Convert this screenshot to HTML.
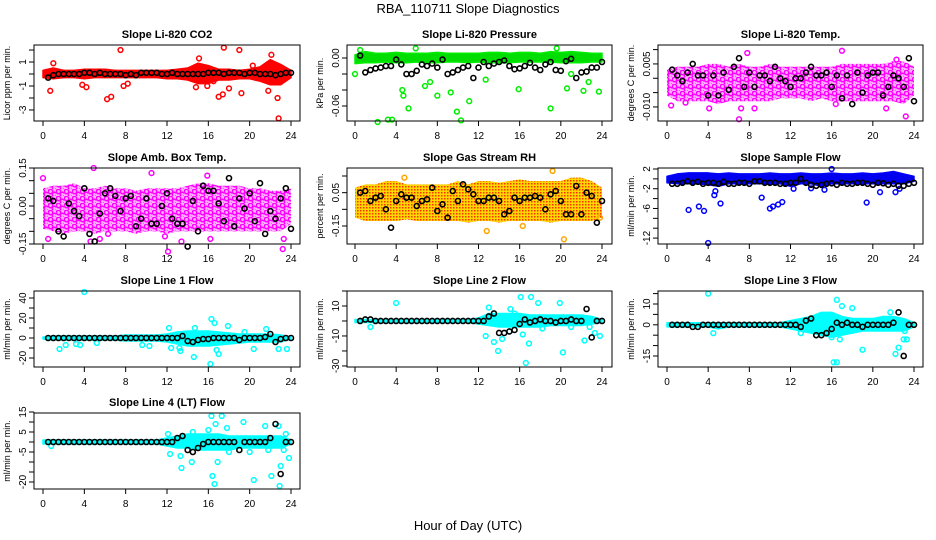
<!DOCTYPE html>
<html><head><meta charset="utf-8"><style>
html,body{margin:0;padding:0;background:#fff}
svg{display:block;font-family:"Liberation Sans",Arial,sans-serif}
</style></head><body>
<svg id="chart" width="936" height="540" viewBox="0 0 936 540">
<defs>
<pattern id="rhpat" width="3" height="3" patternUnits="userSpaceOnUse"><rect width="3" height="3" fill="#ffd700"/><rect width="1.5" height="1.5" fill="#ff3000"/></pattern>
<pattern id="magpat" width="8" height="7" patternUnits="userSpaceOnUse"><rect width="8" height="7" fill="#ffb0ff"/><circle cx="2.5" cy="2.5" r="2.2" fill="none" stroke="#ff00ff" stroke-width="1.5"/><circle cx="6.5" cy="5.5" r="2.2" fill="none" stroke="#ff00ff" stroke-width="1.5"/></pattern>
</defs>
<text x="468" y="13" text-anchor="middle" font-size="13">RBA_110711  Slope Diagnostics</text>
<text x="468" y="530" text-anchor="middle" font-size="13">Hour of Day (UTC)</text>
</svg>
<script>
const hours = [0.5,1,1.5,2,2.5,3,3.5,4,4.5,5,5.5,6,6.5,7,7.5,8,8.5,9,9.5,10,10.5,11,11.5,12,12.5,13,13.5,14,14.5,15,15.5,16,16.5,17,17.5,18,18.5,19,19.5,20,20.5,21,21.5,22,22.5,23,23.5,24];
const bandHours = [0,1,2,3,4,5,6,7,8,9,10,11,12,13,14,15,16,17,18,19,20,21,22,23,24];
const xTicks = [0,4,8,12,16,20,24];

const co2Lo = [-0.3,-0.4,-0.3,-0.3,-0.4,-0.3,-0.3,-0.3,-0.3,-0.3,-0.3,-0.3,-0.4,-0.4,-0.5,-0.8,-0.8,-0.5,-0.5,-0.4,-0.4,-0.6,-0.9,-0.9,-0.3];
const co2Hi = [0.3,0.5,0.3,0.3,0.4,0.4,0.4,0.3,0.3,0.3,0.3,0.3,0.3,0.4,0.5,0.9,0.7,0.4,0.4,0.3,0.4,0.6,1.2,0.8,0.3];
const co2Out = [[0.7,-1.4],[1.0,0.9],[7.5,2.0],[3.8,-0.9],[4.2,-1.1],[6.2,-2.1],[6.6,-1.9],[7.8,-1.0],[8.2,-0.8],[14.8,-1.1],[15.1,1.3],[15.9,-1.0],[17.0,-1.9],[17.4,-1.7],[17.5,2.2],[18.0,-1.2],[19.0,2.0],[19.2,-1.6],[21.8,-1.4],[22.1,1.6],[22.7,-2.0],[22.8,-3.7],[20.3,0.7],[16.5,-0.6]];
const co2Black = [-0.3,-0.1,0,0,0,0,0,0.1,0.1,0,0.1,0,0,0,0,-0.1,0,-0.1,0.1,0.1,0.1,0.1,0,0,0.1,0,0,0,0,0,0,0.1,0.1,0.1,0,0.1,0.1,0.1,0,0.1,0.1,0,0,0,-0.1,0,0.1,0.1];

const presLo = [-0.007,-0.006,-0.006,-0.005,-0.006,-0.006,-0.005,-0.006,-0.006,-0.005,-0.005,-0.006,-0.005,-0.006,-0.006,-0.006,-0.005,-0.005,-0.005,-0.005,-0.006,-0.006,-0.006,-0.005,-0.005];
const presHi = [0.004,0.008,0.006,0.006,0.007,0.006,0.006,0.006,0.007,0.006,0.006,0.006,0.006,0.007,0.007,0.006,0.007,0.007,0.006,0.008,0.007,0.008,0.007,0.006,0.006];
const presOut = [[0,-0.02],[2.2,-0.08],[3.2,-0.077],[3.6,-0.077],[4.6,-0.04],[4.7,-0.047],[5.2,-0.063],[6.8,-0.035],[7.3,-0.03],[8.0,-0.047],[9.9,-0.067],[10.3,-0.078],[9.3,-0.043],[11.1,-0.054],[12.7,-0.027],[15.9,-0.039],[19.0,-0.063],[20.6,-0.038],[22.2,-0.041],[22.7,-0.030],[23.7,-0.042],[5.9,0.012],[0.5,0.01],[19.6,0.012],[21.0,-0.02]];
const presBlack = [0.003,-0.018,-0.015,-0.013,-0.012,-0.010,-0.010,-0.002,-0.008,-0.020,-0.020,-0.016,-0.008,-0.010,-0.007,-0.012,-0.002,-0.020,-0.018,-0.015,-0.012,-0.010,-0.025,-0.012,-0.005,-0.010,-0.007,-0.005,-0.003,-0.010,-0.014,-0.013,-0.010,-0.006,-0.012,-0.015,-0.008,-0.005,-0.015,-0.016,-0.004,-0.001,-0.025,-0.018,-0.017,-0.012,-0.012,-0.005];

const tempLo = [-0.006,-0.008,-0.008,-0.008,-0.008,-0.009,-0.008,-0.008,-0.008,-0.008,-0.008,-0.007,-0.007,-0.007,-0.008,-0.007,-0.008,-0.008,-0.008,-0.008,-0.008,-0.008,-0.008,-0.009,-0.006];
const tempHi = [0.003,0.004,0.004,0.004,0.005,0.005,0.004,0.005,0.004,0.004,0.005,0.004,0.004,0.004,0.004,0.004,0.004,0.005,0.005,0.005,0.005,0.005,0.006,0.006,0.004];
const tempOut = [[4.1,-0.0105],[7.0,-0.0143],[7.2,-0.0105],[8.5,-0.0105],[7.8,0.0088],[17.0,0.0096],[21.3,-0.0105],[23.2,-0.0133],[22.3,0.0065],[0.4,-0.0095],[1.8,-0.0085],[16.4,-0.009]];
const tempBlack = [0.003,0.001,-0.001,0.002,0.005,0.001,0.001,-0.006,0.001,-0.006,0.002,-0.004,0.004,0.007,-0.003,0.002,-0.003,0.001,0.001,-0.001,0.004,0.0,-0.001,-0.003,0.0,0.0,0.002,0.004,0.001,0.001,0.002,-0.003,0.001,-0.007,0.001,-0.009,0.002,-0.005,0.001,0.002,0.002,-0.006,-0.003,0.001,0.0,-0.003,0.007,-0.008];

const ambLo = [-0.09,-0.1,-0.11,-0.1,-0.1,-0.11,-0.1,-0.1,-0.1,-0.11,-0.1,-0.1,-0.11,-0.1,-0.1,-0.1,-0.1,-0.1,-0.1,-0.1,-0.1,-0.1,-0.1,-0.1,-0.07];
const ambHi = [0.07,0.08,0.08,0.09,0.07,0.07,0.08,0.07,0.07,0.06,0.07,0.07,0.07,0.07,0.08,0.09,0.09,0.08,0.08,0.08,0.07,0.07,0.06,0.06,0.07];
const ambOut = [[0,0.11],[0.5,-0.13],[4.9,0.15],[5.5,-0.13],[6.3,-0.11],[10.5,0.13],[12.1,-0.18],[13.4,-0.14],[16.2,-0.13],[23.3,-0.13],[23.2,-0.17],[11.8,-0.12],[4.6,-0.14],[15.9,0.12]];
const ambBlack = [0.03,0.02,-0.1,-0.12,0.01,-0.02,-0.04,0.07,-0.11,-0.14,-0.03,0.05,0.07,0.04,-0.02,0.03,0.04,-0.08,-0.05,0.03,-0.07,-0.07,0.0,0.05,-0.05,-0.07,-0.07,-0.16,0.02,-0.1,0.08,0.06,0.06,0.01,-0.06,0.11,-0.08,0.03,-0.01,0.05,-0.06,0.09,-0.11,-0.02,-0.05,0.03,0.07,-0.09];

const rhLo = [-0.1,-0.12,-0.12,-0.12,-0.12,-0.11,-0.12,-0.12,-0.12,-0.12,-0.12,-0.13,-0.12,-0.12,-0.13,-0.12,-0.12,-0.12,-0.12,-0.13,-0.12,-0.12,-0.12,-0.12,-0.1];
const rhHi = [0.08,0.1,0.1,0.12,0.12,0.1,0.1,0.1,0.1,0.1,0.12,0.1,0.12,0.12,0.11,0.12,0.13,0.12,0.12,0.12,0.12,0.14,0.14,0.12,0.08];
const rhOut = [[12.8,-0.18],[16.3,-0.15],[20.3,-0.23],[19.2,0.18],[23.8,-0.1],[4.8,0.14]];
const rhBlack = [0.05,0.06,0.0,0.02,0.03,-0.05,-0.16,0.0,0.04,0.02,0.02,-0.03,0.0,0.01,0.08,-0.06,-0.02,-0.1,0.06,0.0,0.1,0.07,0.04,0.0,0.0,0.02,0.02,0.0,-0.08,-0.06,0.02,0.0,0.02,0.02,0.03,0.02,-0.05,0.04,0.06,0.0,-0.08,-0.08,0.09,-0.08,0.05,0.03,-0.13,0.0];

const sfLo = [-0.8,-1,-1,-1,-1.2,-1.5,-1,-1,-1,-1,-1,-1,-1.5,-1,-1,-1.5,-1,-1,-1,-1,-1,-1,-1,-1,-0.5];
const sfHi = [0.5,1,1.2,1.2,1.2,1,1.2,1,1,1,1.2,1,1,1.2,1,1,1.2,1,1,1.2,1,1.2,1.5,1,0.5];
const sfOut = [[2.1,-6.3],[3.1,-5.6],[3.6,-6.5],[4.0,-13],[4.6,-3.3],[4.7,-2.5],[5.2,-5],[9.2,-3.8],[10.0,-6],[10.3,-5.6],[10.8,-5.2],[11.2,-4.7],[12.3,-2],[14.0,-1.9],[15.3,-2.2],[16.0,2],[19.4,-4.8],[20.7,-2.7],[22.2,-2.7],[22.6,-2],[8.0,0.3]];
const sfBlack = [-1,-1,-0.8,-0.5,-0.8,-0.6,-1,-0.8,-0.8,-1,-0.6,-1,-1,-0.8,-0.8,-1,-0.5,-0.5,-0.8,-0.8,-0.8,-1,-1,-0.8,-0.8,0,-0.8,-1.2,-1.4,-1.2,-1,-0.9,-1.2,-0.8,-1,-1,-0.8,-0.8,-1,-1.2,-0.8,-0.9,-1.2,-1,-1.4,-1.4,-1,-0.8];

const l1Lo = [-1,-2,-2,-2,-2,-2,-2,-2,-3,-3,-3,-3,-4,-6,-8,-8,-8,-7,-6,-5,-4,-4,-4,-4,-1];
const l1Hi = [1,2,2,2,2,2,2,2,3,3,3,3,4,6,7,7,7,6,5,4,4,4,4,3,1];
const l1Out = [[4,46],[1.6,-11],[2.2,-7],[3.2,-6],[3.6,-7],[5.2,-5],[9.6,-7],[10.3,-8],[12.2,10],[12.4,-10],[13.2,-10],[13.3,-13],[14.6,-19],[14.7,10],[16.3,19],[16.6,15],[16.2,-26],[16.8,-12],[17.0,-16],[17.9,12],[19.5,6],[20.4,-11],[21.6,9],[22.8,-11],[23.6,-11]];
const l1Black = [0,0,0,0,0,0,0,0,0,0,0,0,0,0,0,0,0,0,0,0,0,0,0,0,0,0,2,-3,-4,-2,-1,-1,0,0,0,0,0,-2,0,0,0,0,1,4,-4,-1,0,0];

const l2Lo = [-1,-1,-1,-1,-1,-1,-1,-1,-1,-1,-1,-1,-2,-3,-4,-4,-4,-4,-4,-3,-3,-3,-3,-2,-1];
const l2Hi = [1,1,1,1,1,1,1,1,1,1,1,1,2,5,5,5,5,4,4,4,4,4,4,3,1];
const l2Out = [[4,12],[1.5,-4],[13.0,9],[12.7,-10],[13.5,-14],[13.9,-20],[14.3,-12],[15.0,-7],[15.5,5],[16.1,16],[16.3,-9],[16.6,-28],[16.9,-15],[17.1,16],[17.8,12],[18.2,-5],[19.9,12],[20.2,-21],[21.0,-4],[22.3,-13],[22.8,-4],[23.3,-8],[23.8,-10],[15.1,8]];
const l2Black = [0,1,1,0,0,0,0,0,0,0,0,0,0,0,0,0,0,0,0,0,0,0,0,0,0,3,5,-8,-8,-7,-6,-2,1,-1,0,1,0,0,-1,0,0,1,0,0,8,-11,0,0];

const l3Lo = [-1,-1,-1,-1,-1,-2,-1,-1,-1,-1,-1,-1,-2,-3,-4,-5,-6,-5,-4,-3,-3,-3,-3,-3,-1];
const l3Hi = [1,1,1,1,1,1,1,1,1,1,1,1,2,3,4,6,6,4,3,3,3,4,4,3,1];
const l3Out = [[4.0,15],[4.5,-4],[13.0,-4],[16.5,12],[17.0,9],[16.2,-18],[16.5,-18],[16.0,-6],[16.8,-7],[18.0,8],[19.0,-12],[21.7,6],[22.2,-14],[22.5,-11],[23.0,-7],[23.1,-3],[23.3,-7]];
const l3Black = [0,0,0,0,-1,-1,0,0,0,0,0,0,0,0,0,0,0,0,0,0,0,0,0,0,0,-1,2,3,-5,-5,-4,-2,1,0,1,0,0,-1,0,0,0,0,0,1,6,-15,0,0];

const l4Lo = [-1,-1,-1,-1,-1,-1,-1,-1,-1,-1,-1,-1,-2,-3,-3,-4,-4,-4,-4,-3,-3,-3,-3,-3,-1];
const l4Hi = [1,1,1,1,1,1,1,1,1,1,1,1,2,3,4,4,4,4,3,3,3,3,3,3,1];
const l4Out = [[0.8,-2],[12.1,4],[12.3,-6],[13.3,-7],[13.4,-13],[14.4,-10],[14.5,5],[16.0,6],[16.3,13],[16.4,-17],[16.6,-21],[16.7,9],[16.9,-10],[17.3,13],[17.8,7],[18.0,-5],[19.4,10],[20.0,-5],[20.4,-19],[21.5,8],[21.8,-4],[22.1,-17],[22.8,8],[22.9,-22],[23.3,-4],[23.5,4],[23.8,-8],[23.0,-12]];
const l4Black = [0,0,0,0,0,0,0,0,0,0,0,0,0,0,0,0,0,0,0,0,0,0,0,0,0,2,3,-4,-5,-3,-1,0,0,0,0,0,0,-4,0,0,0,0,0,2,9,-16,0,0];

const NS = "http://www.w3.org/2000/svg";
const svg = document.getElementById('chart');
function mk(tag, attrs, parent){ const e=document.createElementNS(NS,tag); for(const k in attrs) e.setAttribute(k,attrs[k]); (parent||svg).appendChild(e); return e; }

const cols = [[34,300,43,291],[347,612,355,602],[658,923,667,914]];
const rows = [[45,121],[168,244],[291,367],[413,489]];

const panels = [
 {name:'co2',title:'Slope Li-820 CO2',ylab:'Licor ppm per min.',c:0,r:0,top:2.42,bot:-3.92,ticks:[-3,-2,-1,0,1,2],labels:[-3,-1,1],lo:co2Lo,hi:co2Hi,out:co2Out,black:co2Black,color:'#ff0000',fill:'#ff0000',sw:1.5},
 {name:'pressure',title:'Slope Li-820 Pressure',ylab:'kPa per min.',c:1,r:0,top:0.01625,bot:-0.07875,ticks:[0,-0.02,-0.04,-0.06],labels:[0,-0.06],fmt:v=>v.toFixed(2),lo:presLo,hi:presHi,out:presOut,black:presBlack,color:'#00ee00',fill:'#00dd00',sw:1.5},
 {name:'temp',title:'Slope Li-820 Temp.',ylab:'degrees C per min.',c:2,r:0,top:0.0116,bot:-0.0149,ticks:[0.01,0.005,0,-0.005,-0.01],labels:[0.005,-0.01],fmt:v=>v.toFixed(3),lo:tempLo,hi:tempHi,out:tempOut,black:tempBlack,color:'#ff00ff',fill:'url(#magpat)',sw:0},
 {name:'amb-box-temp',title:'Slope Amb. Box Temp.',ylab:'degrees C per min.',c:0,r:1,top:0.15,bot:-0.15,ticks:[0.15,0.1,0.05,0,-0.05,-0.1,-0.15],labels:[0.15,0,-0.15],fmt:v=>v.toFixed(2),lo:ambLo,hi:ambHi,out:ambOut,black:ambBlack,color:'#ff00ff',fill:'url(#magpat)',sw:0},
 {name:'gas-rh',title:'Slope Gas Stream RH',ylab:'percent per min.',c:1,r:1,top:0.198,bot:-0.258,ticks:[0.15,0.05,-0.05,-0.15],labels:[0.05,-0.15],fmt:v=>v.toFixed(2),lo:rhLo,hi:rhHi,out:rhOut,black:rhBlack,color:'#ffa500',fill:'url(#rhpat)',sw:0},
 {name:'sample-flow',title:'Slope Sample Flow',ylab:'ml/min per min.',c:2,r:1,top:2.2,bot:-13.2,ticks:[2,0,-2,-4,-6,-8,-10,-12],labels:[2,-2,-6,-12],lo:sfLo,hi:sfHi,out:sfOut,black:sfBlack,color:'#0000ff',fill:'#0000ee',sw:1.5},
 {name:'line1-flow',title:'Slope Line 1 Flow',ylab:'ml/min per min.',c:0,r:2,top:47,bot:-29,ticks:[40,30,20,10,0,-10,-20],labels:[40,20,0,-20],lo:l1Lo,hi:l1Hi,out:l1Out,black:l1Black,color:'#00ffff',fill:'#00ffff',sw:1.5},
 {name:'line2-flow',title:'Slope Line 2 Flow',ylab:'ml/min per min.',c:1,r:2,top:20,bot:-30.7,ticks:[20,10,0,-10,-20,-30],labels:[10,-10,-30],lo:l2Lo,hi:l2Hi,out:l2Out,black:l2Black,color:'#00ffff',fill:'#00ffff',sw:1.5},
 {name:'line3-flow',title:'Slope Line 3 Flow',ylab:'ml/min per min.',c:2,r:2,top:16.25,bot:-20.3,ticks:[15,10,5,0,-5,-10,-15],labels:[10,0,-15],lo:l3Lo,hi:l3Hi,out:l3Out,black:l3Black,color:'#00ffff',fill:'#00ffff',sw:1.5},
 {name:'line4-flow',title:'Slope Line 4 (LT) Flow',ylab:'ml/min per min.',c:0,r:3,top:14.5,bot:-23.5,ticks:[15,10,5,0,-5,-10,-15,-20],labels:[15,5,-5,-20],lo:l4Lo,hi:l4Hi,out:l4Out,black:l4Black,color:'#00ffff',fill:'#00ffff',sw:1.5}
];

panels.forEach(p=>{
  const [bx0,bx1,x0,x24]=cols[p.c]; const [by0,by1]=rows[p.r];
  const X=h=>x0+(x24-x0)*h/24;
  const Y=v=>by0+(by1-by0)*(p.top-v)/(p.top-p.bot);
  const g=mk('g',{});
  
  
  const t=mk('text',{x:(bx0+bx1)/2,y:by0-7,'text-anchor':'middle','font-size':11,'font-weight':'bold'},g); t.textContent=p.title;
  
  
  let pts=bandHours.map((h,i)=>X(h)+','+Y(p.hi[i]));
  pts=pts.concat(bandHours.map((h,i)=>X(h)+','+Y(p.lo[i])).reverse());
  const band=mk('polygon',{points:pts.join(' '),fill:p.fill,stroke:p.sw?p.color:'none','stroke-width':p.sw,'stroke-linejoin':'round'},g);
  
  
  p.out.forEach(o=>{
    const c=mk('circle',{cx:X(o[0]),cy:Y(o[1]),r:2.4,fill:'none',stroke:p.color,'stroke-width':1.5},g);
    
    
  });
  hours.forEach((h,i)=>{
    const c=mk('circle',{cx:X(h),cy:Y(p.black[i]),r:2.5,fill:'none',stroke:'#000','stroke-width':1.6},g);
    
    
  });
  const box=mk('rect',{x:bx0,y:by0,width:bx1-bx0,height:by1-by0,fill:'none',stroke:'#000','stroke-width':1},g);
  
  
  mk('line',{x1:X(0),x2:X(24),y1:by1,y2:by1,stroke:'#000'},g);
  xTicks.forEach(h=>{
    mk('line',{x1:X(h),x2:X(h),y1:by1,y2:by1+5,stroke:'#000'},g);
    const l=mk('text',{x:X(h),y:by1+18,'text-anchor':'middle','font-size':10},g); l.textContent=h;
    
    
  });
  mk('line',{x1:bx0,x2:bx0,y1:Y(p.ticks[0]),y2:Y(p.ticks[p.ticks.length-1]),stroke:'#000'},g);
  p.ticks.forEach(v=>mk('line',{x1:bx0-5,x2:bx0,y1:Y(v),y2:Y(v),stroke:'#000'},g));
  p.labels.forEach(v=>{
    const yy=Y(v), xx=bx0-8;
    const l=mk('text',{x:xx,y:yy,'text-anchor':'middle','font-size':10,transform:`rotate(-90 ${xx} ${yy})`},g);
    l.textContent=p.fmt?p.fmt(v):String(v);
    
    
  });
  const yl=bx0-24, ym=(by0+by1)/2;
  const ylab=mk('text',{x:yl,y:ym,'text-anchor':'middle','font-size':9,transform:`rotate(-90 ${yl} ${ym})`},g);
  ylab.textContent=p.ylab;
  
  
});
</script>
</body></html>
